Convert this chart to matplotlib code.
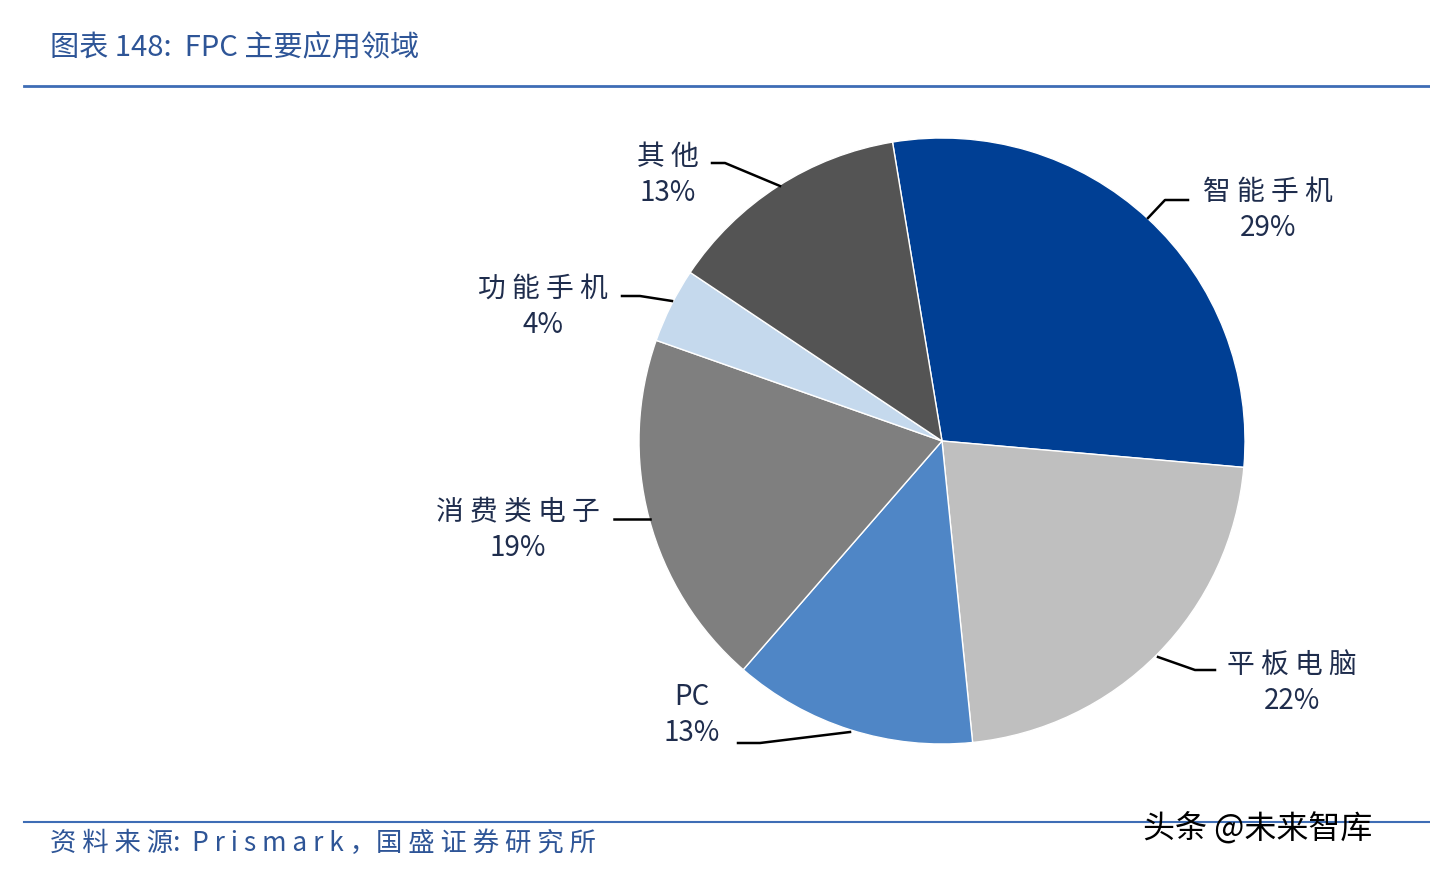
import matplotlib
matplotlib.use("Agg")
import matplotlib.pyplot as plt

plt.rcParams['font.family'] = ['Noto Sans CJK SC', 'DejaVu Sans']

categories = ['智能手机', '平板电脑', 'PC', '消费类电子', '功能手机', '其他']
values = [29, 22, 13, 19, 4, 13]
colors = ['#003F94', '#BFBFBF', '#4F86C6', '#7F7F7F', '#C5D9ED', '#545454']

W, H = 1430, 872
fig = plt.figure(figsize=(W/100, H/100), dpi=100)
cx, cy, R = 942, 441, 303
ax = fig.add_axes([(cx-R)/W, (H-cy-R)/H, 2*R/W, 2*R/H])
ax.pie(values, colors=colors, startangle=99.4, counterclock=False,
       radius=1, wedgeprops=dict(linewidth=1, edgecolor='white'))
ax.set_xlim(-1, 1); ax.set_ylim(-1, 1)
ax.set_aspect('equal')

def d(px, py):
    return ((px-cx)/R, (cy-py)/R)

labels = [
    ('智 能 手 机', 1268, 210, [(1148, 218), (1165, 200), (1188, 200)]),
    ('平 板 电 脑', 1292, 683, [(1158, 657), (1195, 670), (1215, 670)]),
    ('PC', 692, 715, [(850, 732), (760, 743), (738, 743)]),
    ('消 费 类 电 子', 518, 530, [(650, 519), (614, 519)]),
    ('功 能 手 机', 543, 307, [(672, 301), (640, 296), (622, 296)]),
    ('其 他', 668, 175, [(780, 186), (725, 163), (712, 163)]),
]
for (name, tx, ty, pts), v in zip(labels, values):
    x, y = d(tx, ty)
    ax.text(x, y, f'{name}\n{v}%', ha='center', va='center', fontsize=20,
            color='#1F2D4D', linespacing=1.3, clip_on=False)
    xs = [d(*p)[0] for p in pts]; ys = [d(*p)[1] for p in pts]
    ax.plot(xs, ys, color='black', lw=1.8, clip_on=False)

blue = '#2E5597'
fig.text(50/W, 1-47/H, '图表 148:  FPC 主要应用领域', fontsize=21, color=blue,
         style='italic', va='center', ha='left')
fig.add_artist(plt.Line2D([24/W, 1], [1-86/H]*2, color='#3E6DB5', lw=2))
fig.add_artist(plt.Line2D([24/W, 1], [1-822/H]*2, color='#3E6DB5', lw=1.5))
fig.text(50/W, 1-843/H, '资 料 来 源:  P r i s m a r k ，国 盛 证 券 研 究 所', fontsize=19, color=blue,
         style='italic', va='center', ha='left')
fig.text(1143/W, 1-828/H, '头条 @未来智库', fontsize=23, color='black',
         va='center', ha='left')
fig.savefig('out.png', dpi=100)
